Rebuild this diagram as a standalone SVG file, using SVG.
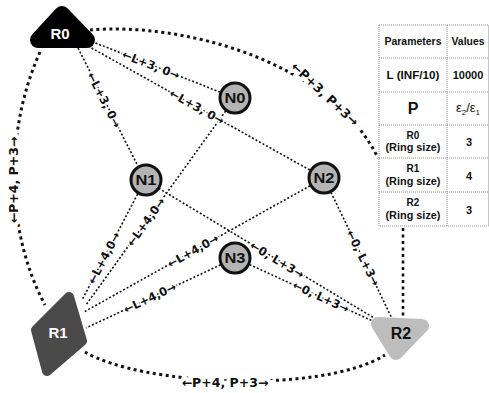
<svg xmlns="http://www.w3.org/2000/svg" width="489" height="393" viewBox="0 0 489 393">
<style>
.ln{fill:none;stroke:#111;stroke-width:1.6;stroke-dasharray:2 2}
.arc{fill:none;stroke:#111;stroke-width:3;stroke-dasharray:3 3.5}
.lbl{font-family:"DejaVu Sans",sans-serif;font-weight:bold;font-size:11.5px;fill:#111;stroke:#fff;stroke-width:3;paint-order:stroke;text-anchor:middle;dominant-baseline:central}
.albl{font-family:"DejaVu Sans",sans-serif;font-weight:bold;font-size:12.5px;fill:#111;stroke:#fff;stroke-width:8;paint-order:stroke;text-anchor:middle;dominant-baseline:central}
.nc{fill:#b4b4b4;stroke:#111;stroke-width:3}
.nt{font-family:"Liberation Sans",sans-serif;font-weight:bold;font-size:15px;fill:#111;text-anchor:middle}
.rt{font-family:"Liberation Sans",sans-serif;font-weight:bold;font-size:15px;text-anchor:middle}
.tb{fill:none;stroke:#8a8a8a;stroke-width:1;stroke-dasharray:1 1}
.tt{font-family:"Liberation Sans",sans-serif;font-weight:bold;font-size:10px;fill:#111;text-anchor:middle}
</style>
<g id="connectors">
<line class="ln" x1="88" y1="40" x2="235" y2="98"/>
<line class="ln" x1="88" y1="46" x2="324" y2="178"/>
<line class="ln" x1="78" y1="48" x2="145" y2="180"/>
<line class="ln" x1="145" y1="180" x2="82" y2="300"/>
<line class="ln" x1="235" y1="98" x2="86" y2="305"/>
<line class="ln" x1="324" y1="178" x2="84" y2="312"/>
<line class="ln" x1="235" y1="258" x2="86" y2="328"/>
<line class="ln" x1="145" y1="180" x2="399" y2="333"/>
<line class="ln" x1="235" y1="258" x2="399" y2="333"/>
<line class="ln" x1="324" y1="178" x2="399" y2="333"/>
<line class="arc" style="stroke-width:2.6" x1="403" y1="228" x2="403" y2="318"/>
<path class="arc" d="M90,30 C180,22 330,60 378,158"/>
<path class="arc" d="M40,52 C5,130 5,230 45,305"/>
<path class="arc" d="M85,352 C140,385 320,395 385,355"/>
<text class="lbl" transform="translate(151,65) rotate(21.5)">←L+3, 0→</text>
<text class="lbl" transform="translate(197,107) rotate(29.2)">←L+3, 0→</text>
<text class="lbl" transform="translate(104,100) rotate(63.1)">←L+3, 0→</text>
<text class="lbl" transform="translate(104,258) rotate(-62.3)">←L+4,0→</text>
<text class="lbl" transform="translate(146,222) rotate(-54.3)">←L+4,0→</text>
<text class="lbl" transform="translate(193,251) rotate(-29.2)">←L+4,0→</text>
<text class="lbl" transform="translate(150,298) rotate(-25.2)">←L+4,0→</text>
<text class="lbl" transform="translate(277,260) rotate(31)">←0, L+3→</text>
<text class="lbl" transform="translate(321,297) rotate(24.6)">←0, L+3→</text>
<text class="lbl" transform="translate(363,258) rotate(64)">←0, L+3→</text>
<text class="albl" transform="translate(325,94) rotate(43)">←P+3, P+3→</text>
<text class="albl" transform="translate(13,180) rotate(-90)">←P+4, P+3→</text>
<text class="albl" transform="translate(225,382)">←P+4, P+3→</text>
</g>
<g id="R0">
<polygon points="62,14 38,40 87,40" fill="#000" stroke="#000" stroke-width="16" stroke-linejoin="round"/>
<text class="rt" x="60" y="39" fill="#fff">R0</text>
</g>
<g id="R1">
<polygon points="69,297 82,341 47,371 36,330" fill="#4a4a4a" stroke="#4a4a4a" stroke-width="10" stroke-linejoin="round"/>
<text class="rt" x="58" y="338" fill="#fff">R1</text>
</g>
<g id="R2">
<polygon points="378,324 422,326 396,353" fill="#bdbdbd" stroke="#bdbdbd" stroke-width="14" stroke-linejoin="round"/>
<text class="rt" x="401" y="339" fill="#111" style="font-size:16px">R2</text>
</g>
<g id="N0"><circle class="nc" cx="235" cy="98" r="15"/><text class="nt" x="235" y="103" textLength="21" lengthAdjust="spacingAndGlyphs">N0</text></g>
<g id="N1"><circle class="nc" cx="146" cy="180" r="15"/><text class="nt" x="146" y="185" textLength="21" lengthAdjust="spacingAndGlyphs">N1</text></g>
<g id="N2"><circle class="nc" cx="324" cy="178" r="15"/><text class="nt" x="324" y="183" textLength="21" lengthAdjust="spacingAndGlyphs">N2</text></g>
<g id="N3"><circle class="nc" cx="235" cy="258" r="15"/><text class="nt" x="235" y="263" textLength="21" lengthAdjust="spacingAndGlyphs">N3</text></g>
<g id="table">
<rect class="tb" x="379" y="25" width="109.5" height="201"/>
<line class="tb" x1="447" y1="25" x2="447" y2="226"/>
<line class="tb" x1="379" y1="58" x2="488.5" y2="58"/>
<line class="tb" x1="379" y1="92" x2="488.5" y2="92"/>
<line class="tb" x1="379" y1="125" x2="488.5" y2="125"/>
<line class="tb" x1="379" y1="158" x2="488.5" y2="158"/>
<line class="tb" x1="379" y1="192" x2="488.5" y2="192"/>
<text class="tt" x="413" y="45" textLength="57" lengthAdjust="spacingAndGlyphs">Parameters</text>
<text class="tt" x="468" y="45" textLength="33" lengthAdjust="spacingAndGlyphs">Values</text>
<text class="tt" x="413" y="79" style="font-size:11px" textLength="53" lengthAdjust="spacingAndGlyphs">L (INF/10)</text>
<text class="tt" x="468" y="79" style="font-size:11px">10000</text>
<text class="tt" x="413" y="114" style="font-size:16px">P</text>
<text class="tt" x="468" y="112" style="font-size:13px;font-weight:normal"><tspan>ε</tspan><tspan dy="3" style="font-size:8px">2</tspan><tspan dy="-3">/ε</tspan><tspan dy="3" style="font-size:8px">1</tspan></text>
<text class="tt" x="413" y="139">R0</text>
<text class="tt" x="413" y="151" textLength="55" lengthAdjust="spacingAndGlyphs">(Ring size)</text>
<text class="tt" x="469" y="146" style="font-size:11px">3</text>
<text class="tt" x="413" y="172">R1</text>
<text class="tt" x="413" y="185" textLength="55" lengthAdjust="spacingAndGlyphs">(Ring size)</text>
<text class="tt" x="469" y="180" style="font-size:11px">4</text>
<text class="tt" x="413" y="206">R2</text>
<text class="tt" x="413" y="219" textLength="55" lengthAdjust="spacingAndGlyphs">(Ring size)</text>
<text class="tt" x="469" y="214" style="font-size:11px">3</text>
</g>
</svg>
